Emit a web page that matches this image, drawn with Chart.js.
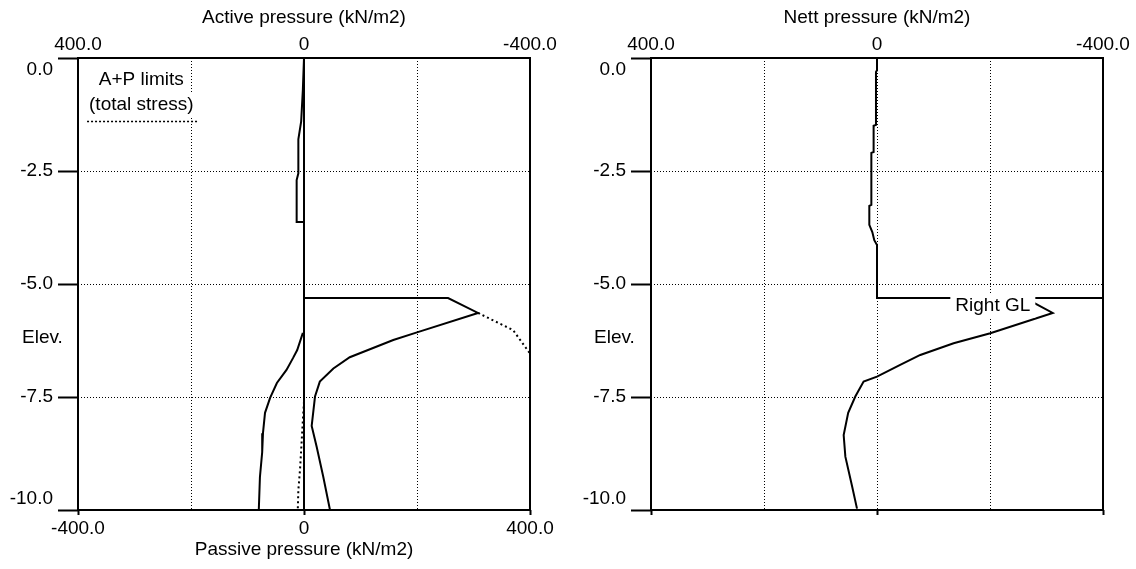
<!DOCTYPE html>
<html>
<head>
<meta charset="utf-8">
<title>Pressure diagrams</title>
<script src="https://cdn.jsdelivr.net/npm/chart.js@4.4.1/dist/chart.umd.min.js"></script>
<style>
  html, body { margin: 0; padding: 0; background: #fff; }
  #wrap { position: relative; width: 1136px; height: 569px; }
  canvas { position: absolute; top: 0; }
  #left { left: 0; }
  #right { left: 568px; }
</style>
</head>
<body>
<div id="wrap">
  <canvas id="left" width="568" height="569"></canvas>
  <canvas id="right" width="568" height="569"></canvas>
</div>
<script>
// axis ticks
const elevTicks = [0, -2.5, -5, -7.5, -10];
const elevLabels = ['0.0', '-2.5', '-5.0', '-7.5', '-10.0'];
const pressTicks = [-400, -200, 0, 200, 400];
const pressLabels = ['-400.0', '', '0', '', '400.0'];

// left panel, x = passive axis (kN/m2), y = elevation (m)
const wallX = [0, 0];
const wallY = [0, -10];
const activeX = [0, -2, -5, -10, -10, -13, -13, 0, 0, 255, 308, 200, 158, 81, 52, 28, 19.5, 13.6, 22.4, 34, 46];
const activeY = [0, -0.7, -1.4, -1.8, -2.55, -2.7, -3.63, -3.63, -5.31, -5.31, -5.64, -6.07, -6.24, -6.62, -6.87, -7.16, -7.49, -8.14, -8.6, -9.26, -10];
const passiveX = [-2, -12, -19.5, -31, -48, -60, -69, -72.6, -74, -78, -80];
const passiveY = [-6.08, -6.46, -6.64, -6.9, -7.19, -7.52, -7.85, -8.3, -8.72, -9.27, -10];
const limitTopX = [308, 370, 399];
const limitTopY = [-5.64, -6.02, -6.52];
const limitBotX = [0, -1.2, -4, -7, -10, -11];
const limitBotY = [-7.6, -7.85, -8.45, -9.1, -9.56, -10];

// right panel, x = nett pressure (kN/m2, axis reversed)
const nettX = [0, 0, 1.8, 1.8, 6, 6, 10, 10, 13.6, 13.6, 8.3, 4.8, 0, 0, -262, -311, -200.5, -135.6, -76.6, -41, 0, 23.7, 38.4, 51, 59, 56, 44, 35.4];
const nettY = [0, -0.27, -0.31, -1.48, -1.5, -2.08, -2.1, -3.25, -3.27, -3.69, -3.85, -4.03, -4.14, -5.31, -5.31, -5.64, -6.09, -6.31, -6.57, -6.79, -7.05, -7.16, -7.49, -7.85, -8.34, -8.82, -9.48, -9.97];
const rightGLX = [0, -400];
const rightGLY = [-5.31, -5.31];

const FONT = { family: '"Liberation Sans", Arial, sans-serif', size: 19, lineHeight: 1.2 };
Chart.defaults.font = FONT;
Chart.defaults.color = '#000';

function series(xs, ys, dotted) {
    return {
        data: xs.map((x, i) => ({ x: x, y: ys[i] })),
        showLine: true,
        borderColor: '#000',
        borderWidth: 2,
        borderDash: dotted ? [2, 3] : [],
        pointRadius: 0,
        tension: 0,
    };
}

const pressLabel = (v) => pressLabels[pressTicks.indexOf(v)];
const setPressTicks = (s) => { s.ticks = pressTicks.map((v) => ({ value: v })); };
const tickMarkColor = (c) => (Math.abs(c.tick.value) === 200 ? 'rgba(0,0,0,0)' : '#000');

function yAxis(width) {
    return {
        type: 'linear',
        position: 'left',
        min: -10,
        max: 0,
        afterBuildTicks: (s) => { s.ticks = elevTicks.map((v) => ({ value: v })); },
        afterFit: (s) => { s.width = width; },
        ticks: {
            padding: 5,
            callback: (v) => {
                const t = elevLabels[elevTicks.indexOf(v)];
                if (v === 0) return ['', t];
                if (v === -10) return [t, ''];
                return t;
            },
        },
        grid: { color: '#000', lineWidth: 1, tickLength: 20, tickWidth: 2, tickColor: '#000' },
        border: { display: false, dash: [1, 2] },
    };
}

function topAxis(title, onArea) {
    return {
        type: 'linear',
        position: 'top',
        reverse: true,
        min: -400,
        max: 400,
        afterBuildTicks: setPressTicks,
        afterFit: (s) => { s.height = 58; },
        ticks: { padding: 2, maxRotation: 0, autoSkip: false, callback: pressLabel },
        grid: { color: '#000', lineWidth: 1, drawTicks: false, drawOnChartArea: onArea },
        border: { display: false, dash: [1, 2] },
        title: { display: true, text: title, padding: { top: 6, bottom: 0 } },
    };
}

const frame = {
    id: 'frame',
    beforeDatasetsDraw(chart) {
        const { ctx, chartArea: a } = chart;
        ctx.save();
        ctx.strokeStyle = '#000';
        ctx.lineWidth = 2;
        ctx.strokeRect(a.left, a.top, a.right - a.left, a.bottom - a.top);
        ctx.restore();
    },
};

function boxedText(ctx, text, x, y, padX) {
    const w = ctx.measureText(text).width;
    ctx.fillStyle = '#fff';
    ctx.fillRect(x - w / 2 - padX, y - 11, w + padX * 2, 23);
    ctx.fillStyle = '#000';
    ctx.fillText(text, x, y);
}

const fontStr = '19px "Liberation Sans", Arial, sans-serif';

const leftText = {
    id: 'leftText',
    afterDatasetsDraw(chart) {
        const { ctx, chartArea } = chart;
        const xs = chart.scales.x, ys = chart.scales.y;
        ctx.save();
        ctx.font = fontStr;
        ctx.textBaseline = 'middle';
        ctx.textAlign = 'left';
        ctx.fillStyle = '#000';
        ctx.fillText('Elev.', chartArea.left - 56, ys.getPixelForValue(-6.2));
        ctx.textAlign = 'center';
        const cx = xs.getPixelForValue(-288);
        boxedText(ctx, 'A+P limits', cx, ys.getPixelForValue(-0.49), 1);
        boxedText(ctx, '(total stress)', cx, ys.getPixelForValue(-1.04), 1);
        ctx.strokeStyle = '#000';
        ctx.lineWidth = 1.5;
        ctx.setLineDash([2, 2]);
        const uy = Math.round(ys.getPixelForValue(-1.39)) + 0.5;
        ctx.beginPath();
        ctx.moveTo(xs.getPixelForValue(-384), uy);
        ctx.lineTo(xs.getPixelForValue(-188), uy);
        ctx.stroke();
        ctx.restore();
    },
};

const rightText = {
    id: 'rightText',
    afterDatasetsDraw(chart) {
        const { ctx, chartArea } = chart;
        const xs = chart.scales.x, ys = chart.scales.y;
        ctx.save();
        ctx.font = fontStr;
        ctx.textBaseline = 'middle';
        ctx.textAlign = 'left';
        ctx.fillStyle = '#000';
        ctx.fillText('Elev.', chartArea.left - 57, ys.getPixelForValue(-6.2));
        ctx.textAlign = 'center';
        boxedText(ctx, 'Right GL', xs.getPixelForValue(-205), ys.getPixelForValue(-5.48), 5);
        ctx.restore();
    },
};

// left chart: active / passive pressures
new Chart(document.getElementById('left'), {
    type: 'scatter',
    data: {
        datasets: [
            series(wallX, wallY, false),
            series(activeX, activeY, false),
            series(passiveX, passiveY, false),
            series(limitTopX, limitTopY, true),
            series(limitBotX, limitBotY, true),
        ],
    },
    options: {
        responsive: false,
        animation: false,
        layout: { padding: { left: 0, right: 38, top: 0, bottom: 0 } },
        plugins: { legend: { display: false }, tooltip: { enabled: false } },
        scales: {
            x: {
                type: 'linear',
                position: 'bottom',
                min: -400,
                max: 400,
                afterBuildTicks: setPressTicks,
                afterFit: (s) => { s.height = 59; },
                ticks: { padding: 2, maxRotation: 0, autoSkip: false, callback: pressLabel },
                grid: { color: '#000', lineWidth: 1, tickLength: 5, tickWidth: 2, tickColor: tickMarkColor },
                border: { display: false, dash: [1, 2] },
                title: { display: true, text: 'Passive pressure (kN/m2)', padding: { top: 0, bottom: 8 } },
            },
            xTop: topAxis('Active pressure (kN/m2)', false),
            y: yAxis(78),
        },
    },
    plugins: [frame, leftText],
});

// right chart: nett pressure
new Chart(document.getElementById('right'), {
    type: 'scatter',
    data: {
        datasets: [
            series(nettX, nettY, false),
            series(rightGLX, rightGLY, false),
        ],
    },
    options: {
        responsive: false,
        animation: false,
        layout: { padding: { left: 0, right: 33, top: 0, bottom: 0 } },
        plugins: { legend: { display: false }, tooltip: { enabled: false } },
        scales: {
            x: topAxis('Nett pressure (kN/m2)', true),
            xBot: {
                type: 'linear',
                position: 'bottom',
                min: -400,
                max: 400,
                afterBuildTicks: setPressTicks,
                afterFit: (s) => { s.height = 59; },
                ticks: { padding: 2, maxRotation: 0, autoSkip: false, callback: () => '' },
                grid: { drawOnChartArea: false, tickLength: 5, tickWidth: 2, tickColor: tickMarkColor },
                border: { display: false },
            },
            y: yAxis(83),
        },
    },
    plugins: [frame, rightText],
});
</script>
</body>
</html>
